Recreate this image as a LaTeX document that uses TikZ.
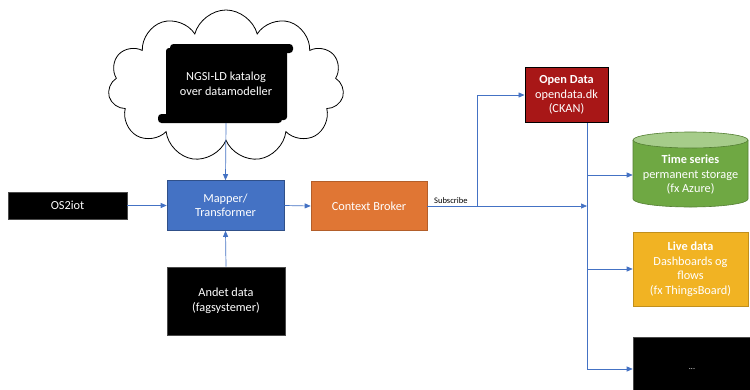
\documentclass[tikz,border=0pt]{standalone}
\usepackage{fontspec}
\setmainfont{Carlito}
\usetikzlibrary{shapes.symbols,arrows.meta}
\definecolor{lineblue}{HTML}{4472C4}
\definecolor{mapblue}{HTML}{4472C4}
\definecolor{cborange}{HTML}{E07634}
\definecolor{odred}{HTML}{A81717}
\definecolor{tsgreen}{HTML}{6FA843}
\definecolor{tsgreentop}{HTML}{A6CC8A}
\definecolor{livegold}{HTML}{F1B323}
\definecolor{edge}{HTML}{4A4A4A}
\tikzset{
  box/.style={draw=edge, line width=0.6pt, text=white, align=center, inner sep=2pt,
    font=\fontsize{12.3}{14.5}\selectfont},
  conn/.style={draw=lineblue, line width=0.7pt},
  arr/.style={conn, -{Triangle[length=6pt,width=5pt]}},
}
\begin{document}
\begin{tikzpicture}[x=1pt,y=-1pt]
\clip (0,0) rectangle (750,389);
\fill[white] (0,0) rectangle (750,389);
% cloud
\node[cloud, cloud puffs=11, cloud ignores aspect, draw=black, line width=0.8pt, fill=white,
  minimum width=236pt, minimum height=152pt] (cloud) at (226,86) {};
% scroll
\fill[black, rounded corners=3pt] (166,48) rectangle (287,120);
\fill[black, rounded corners=3.5pt] (170,44) rectangle (293,53);
\fill[black, rounded corners=3.5pt] (158,114) rectangle (282,123);
\node[box, draw=none, fill=none, minimum width=120pt, minimum height=70pt] (scroll) at (226,84)
  {NGSI-LD katalog\\over datamodeller};
\coordinate (scrollbot) at (226,123);
% boxes
\node[box, fill=black, minimum width=119pt, minimum height=27pt] (os2iot) at (67.5,205.5) {OS2iot};
\node[box, fill=mapblue, draw=lineblue!70!black, minimum width=117pt, minimum height=50pt] (mapper) at (225.5,205.5) {Mapper/\\Transformer};
\node[box, fill=cborange, draw=cborange!80!black, minimum width=116pt, minimum height=49pt] (cb) at (369,206) {Context Broker};
\node[box, fill=black, minimum width=118pt, minimum height=68pt] (andet) at (226,301) {Andet data\\(fagsystemer)};
\node[box, fill=odred, draw=black, line width=1pt, minimum width=83pt, minimum height=55pt] (od) at (566.5,95) {\textbf{Open Data}\\opendata.dk\\(CKAN)};
% cylinder
\fill[tsgreen] (633,140) -- (633,199) arc[start angle=180,end angle=360,x radius=57.5pt,y radius=8pt] -- (748,140) -- cycle;
\draw[tsgreen!75!black, line width=0.6pt] (633,140) -- (633,199) arc[start angle=180,end angle=360,x radius=57.5pt,y radius=8pt] -- (748,140);
\draw[tsgreen!75!black, fill=tsgreentop, line width=0.6pt] (690.5,140) ellipse[x radius=57.5pt, y radius=8pt];
\node[box, draw=none, minimum width=115pt, minimum height=60pt] (ts) at (690.5,175) {\textbf{Time series}\\permanent storage\\(fx Azure)};
\node[box, fill=livegold, draw=livegold!80!black, minimum width=115pt, minimum height=74pt] (live) at (690.5,269) {\textbf{Live data}\\Dashboards og\\flows\\(fx ThingsBoard)};
\node[box, fill=black, minimum width=118pt, minimum height=64pt, font=\fontsize{8}{9}\selectfont] (dots) at (692,369) {...};
% connectors
\coordinate (split) at (477,206);
\coordinate (bus) at (587,206);
\draw[arr] (os2iot.east) -- (mapper.west);
\draw[arr] (scrollbot) -- (mapper.north);
\draw[arr] (andet.north) -- (mapper.south);
\draw[arr] (mapper.east) -- (cb.west);
\draw[arr] (cb.east) -- (bus);
\draw[arr] (split) |- (od.west);
\node[anchor=south west, inner sep=1pt, font=\fontsize{8.5}{9}\selectfont] (sub) at (433,205) {Subscribe};
\draw[conn] (od.south -| bus) -- (dots.west -| bus);
\draw[arr] (ts.west -| bus) -- (ts.west);
\draw[arr] (live.west -| bus) -- (live.west);
\draw[arr] (dots.west -| bus) -- (dots.west);
\end{tikzpicture}
\end{document}
